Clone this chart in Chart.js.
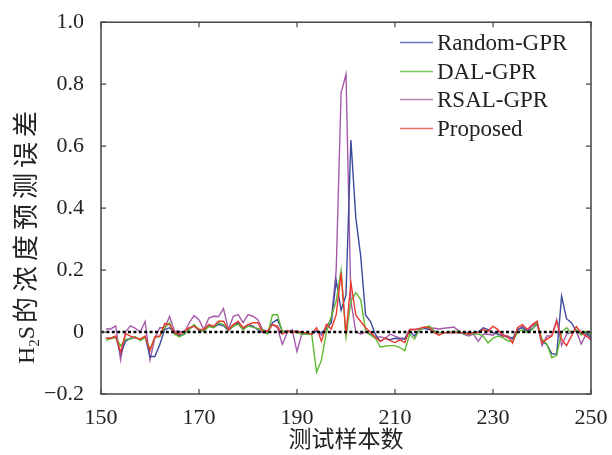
<!DOCTYPE html>
<html>
<head>
<meta charset="utf-8">
<script src="https://cdn.jsdelivr.net/npm/chart.js@4.4.1/dist/chart.umd.min.js"></script>
<style>
  html, body { margin: 0; padding: 0; background: #fff; }
</style>
</head>
<body>
<canvas id="chart" width="612" height="455"></canvas>
<script>
// samples 151..250
const firstSample = 151;
const xTicks = [150, 170, 190, 210, 230, 250];
const yTicks = [-0.2, 0, 0.2, 0.4, 0.6, 0.8, 1.0];
const yTickLabels = ['\u22120.2', '0', '0.2', '0.4', '0.6', '0.8', '1.0'];
const seriesNames = ['Random-GPR', 'DAL-GPR', 'RSAL-GPR', 'Proposed'];

const randomGpr = [
  -0.02, -0.02, -0.015, -0.07, -0.03, -0.02, -0.018, -0.025, -0.015, -0.079,
  -0.079, -0.04, 0.008, 0.014, -0.002, -0.012, -0.007, 0.01, 0.02, 0.005,
  0.005, 0.02, 0.015, 0.025, 0.02, 0.005, 0.019, 0.03, 0.008, 0.024,
  0.019, 0.008, -0.002, -0.002, 0.03, 0.04, 0.003, 0.003, 0.003, 0.003,
  -0.002, -0.002, -0.007, 0.003, -0.002, 0.01, 0.03, 0.166, 0.07, 0.12,
  0.62, 0.37, 0.245, 0.054, 0.034, -0.008, -0.03, -0.02, -0.025, -0.02,
  -0.023, -0.023, 0.003, -0.013, 0.008, 0.012, 0.008, 0.003, -0.002, -0.002,
  -0.002, -0.002, -0.002, -0.005, -0.002, -0.002, 0, 0.014, 0.008, -0.002,
  -0.007, -0.013, -0.015, -0.02, 0.008, 0.014, 0.003, 0.01, 0.025, -0.03,
  -0.04, -0.07, -0.071, 0.116, 0.043, 0.03, 0.003, -0.007, -0.002, -0.018
];
const dalGpr = [
  -0.027, -0.022, -0.018, -0.045, -0.023, -0.023, -0.015, -0.028, -0.018, -0.055,
  -0.018, -0.015, 0.014, 0.03, -0.007, -0.016, -0.007, 0.008, 0.024, 0.008,
  0.003, 0.018, 0.014, 0.03, 0.024, 0.008, 0.019, 0.025, 0.008, 0.019,
  0.015, 0.012, 0.008, -0.007, 0.056, 0.056, 0, 0.003, 0, -0.002,
  -0.007, -0.007, -0.007, -0.13, -0.09, 0.0, 0.05, 0.1, 0.2, -0.017,
  0.1, 0.127, 0.105, 0.003, -0.01, -0.02, -0.049, -0.045, -0.044, -0.044,
  -0.05, -0.06, -0.007, -0.023, 0.008, 0.014, 0.019, 0.003, -0.002, -0.002,
  -0.002, 0.003, 0.003, -0.005, -0.007, -0.005, -0.007, -0.013, -0.035, -0.02,
  -0.013, -0.018, -0.028, -0.03, -0.002, 0.008, -0.002, 0.008, 0.03, -0.023,
  -0.039, -0.083, -0.075, 0, 0.014, -0.002, 0.008, -0.01, 0.003, -0.01
];
const rsalGpr = [
  0.01, 0.01, 0.02, -0.09, 0.0, 0.02, 0.012, 0.0, 0.034, -0.09,
  -0.018, 0.014, 0.014, 0.05, 0.003, 0.003, -0.002, 0.03, 0.053, 0.04,
  0.008, 0.045, 0.051, 0.05, 0.076, 0.008, 0.051, 0.056, 0.03, 0.056,
  0.051, 0.04, 0.008, 0.003, 0.024, 0.014, -0.04, -0.002, 0.008, -0.063,
  -0.005, -0.005, -0.007, 0.003, -0.01, 0.02, 0.04, 0.2, 0.772, 0.832,
  0.1, 0.0, -0.006, 0.0, -0.005, -0.02, -0.015, -0.02, -0.007, -0.013,
  -0.02, -0.02, 0.008, 0.008, 0.01, 0.014, 0.014, 0.012, 0.01, 0.012,
  0.014, 0.016, 0.005, -0.007, -0.013, -0.007, -0.03, -0.007, -0.007, -0.01,
  0.003, -0.007, -0.018, -0.023, 0.005, 0.019, 0.003, 0.019, 0.03, -0.044,
  -0.013, -0.013, 0.04, -0.044, -0.007, -0.002, 0.003, -0.039, -0.007, -0.028
];
const proposed = [
  -0.02, -0.02, -0.013, -0.065, -0.005, -0.013, -0.018, -0.023, -0.013, -0.06,
  -0.015, -0.013, 0.027, 0.024, -0.002, -0.007, 0.003, 0.014, 0.019, 0.008,
  0.008, 0.024, 0.019, 0.035, 0.035, 0.008, 0.024, 0.035, 0.014, 0.024,
  0.03, 0.03, 0, 0.003, 0.024, 0.019, -0.007, 0.005, -0.002, 0.003,
  -0.002, -0.002, -0.007, 0.014, -0.03, 0.024, 0.01, 0.056, 0.19, -0.008,
  0.16, 0.054, 0.034, 0.014, 0, -0.017, -0.03, -0.02, -0.028, -0.034,
  -0.025, -0.034, 0.008, 0.008, 0.012, 0.016, 0.014, -0.002, -0.01, -0.002,
  -0.002, -0.002, -0.002, -0.002, -0.007, -0.002, -0.002, 0.008, 0.003, 0.019,
  0.008, -0.013, -0.013, -0.036, 0.014, 0.024, 0.008, 0.024, 0.035, -0.035,
  -0.023, -0.013, 0.035, -0.023, -0.044, -0.013, 0.018, -0.002, -0.013, -0.023
];
const zeroLine = [0, 0];

const colors = ['#3b4a9c', '#5fb832', '#a45aa8', '#ea3a30'];
const legendColors = ['#6a78b8', '#7ac85a', '#b884bb', '#f06a62'];
const serif = "'Liberation Serif', 'Noto Sans CJK SC', serif";

function toPoints(arr) {
  return arr.map((v, i) => ({ x: firstSample + i, y: v }));
}

const datasets = [randomGpr, dalGpr, rsalGpr, proposed].map((arr, i) => ({
  label: seriesNames[i],
  data: toPoints(arr),
  borderColor: colors[i],
  borderWidth: 1.4,
  pointRadius: 0,
  tension: 0,
  order: [2, 1, 3, 0][i]
}));
datasets.push({
  label: '',
  data: [{ x: xTicks[0], y: zeroLine[0] }, { x: xTicks[xTicks.length - 1], y: zeroLine[1] }],
  borderColor: '#000',
  borderWidth: 2.6,
  borderDash: [3, 2.4],
  pointRadius: 0,
  order: -1
});

// frame, inward ticks, y title and legend
const decor = {
  id: 'decor',
  afterDraw(chart) {
    const { ctx, chartArea: a, scales } = chart;
    ctx.save();
    ctx.strokeStyle = '#444';
    ctx.lineWidth = 1.5;
    ctx.strokeRect(a.left, a.top, a.right - a.left, a.bottom - a.top);
    ctx.lineWidth = 1.2;
    ctx.beginPath();
    xTicks.forEach(t => {
      const px = scales.x.getPixelForValue(t);
      ctx.moveTo(px, a.bottom); ctx.lineTo(px, a.bottom - 5);
      ctx.moveTo(px, a.top); ctx.lineTo(px, a.top + 5);
    });
    yTicks.forEach(t => {
      const py = scales.y.getPixelForValue(t);
      ctx.moveTo(a.left, py); ctx.lineTo(a.left + 5, py);
      ctx.moveTo(a.right, py); ctx.lineTo(a.right - 5, py);
    });
    ctx.stroke();

    // y axis title: H2S with subscript, then the Chinese part a bit larger and spaced
    ctx.fillStyle = '#222';
    ctx.textAlign = 'left';
    ctx.textBaseline = 'alphabetic';
    const fH = '24px ' + serif, fSub = '15px ' + serif, fCn = "26px 'Noto Sans CJK SC', sans-serif";
    ctx.font = fH; const wH = ctx.measureText('H').width, wS = ctx.measureText('S').width;
    ctx.font = fSub; const w2 = ctx.measureText('2').width;
    ctx.font = fCn; ctx.letterSpacing = '5px';
    const wCn = ctx.measureText('的浓度预测误差').width;
    const total = wH + w2 + wS + 3 + wCn;
    ctx.translate(34, 235);
    ctx.rotate(-Math.PI / 2);
    let cx = -total / 2;
    ctx.letterSpacing = '0px';
    ctx.font = fH; ctx.fillText('H', cx, 0); cx += wH;
    ctx.font = fSub; ctx.fillText('2', cx, 5); cx += w2;
    ctx.font = fH; ctx.fillText('S', cx, 0); cx += wS + 3;
    ctx.font = fCn; ctx.letterSpacing = '5px'; ctx.fillText('的浓度预测误差', cx, 1);
    ctx.setTransform(1, 0, 0, 1, 0, 0);
    ctx.letterSpacing = '0px';

    // legend
    ctx.font = '23px ' + serif;
    ctx.textAlign = 'left';
    ctx.textBaseline = 'middle';
    ctx.lineWidth = 1.5;
    seriesNames.forEach((name, i) => {
      const y = Math.round(42 + i * 28.5) + 0.5;
      ctx.strokeStyle = legendColors[i];
      ctx.beginPath();
      ctx.moveTo(400, y); ctx.lineTo(433, y);
      ctx.stroke();
      ctx.fillStyle = '#222';
      ctx.fillText(name, 437, y + 1);
    });
    ctx.restore();
  }
};

new Chart(document.getElementById('chart'), {
  type: 'line',
  data: { datasets: datasets },
  options: {
    responsive: false,
    animation: false,
    devicePixelRatio: 1,
    layout: { padding: { left: 0, right: 21, top: 15, bottom: 0 } },
    plugins: { legend: { display: false }, tooltip: { enabled: false } },
    scales: {
      x: {
        type: 'linear',
        min: 150,
        max: 250,
        afterBuildTicks: s => { s.ticks = xTicks.map(v => ({ value: v })); },
        afterFit: s => { s.height = 61; },
        grid: { display: false },
        border: { display: false },
        ticks: { color: '#222', font: { family: serif, size: 22 }, padding: 3, maxRotation: 0 },
        title: {
          display: true,
          text: '测试样本数',
          color: '#222',
          font: { family: serif, size: 23 },
          padding: { top: 0, bottom: 0 }
        }
      },
      y: {
        min: -0.2,
        max: 1.0,
        afterBuildTicks: s => { s.ticks = yTicks.map(v => ({ value: v })); },
        afterFit: s => { s.width = 101; },
        grid: { display: false },
        border: { display: false },
        ticks: {
          color: '#222',
          font: { family: serif, size: 22 },
          padding: 9,
          callback: v => yTickLabels[yTicks.findIndex(t => Math.abs(t - v) < 1e-9)]
        }
      }
    }
  },
  plugins: [decor]
});
</script>
</body>
</html>
